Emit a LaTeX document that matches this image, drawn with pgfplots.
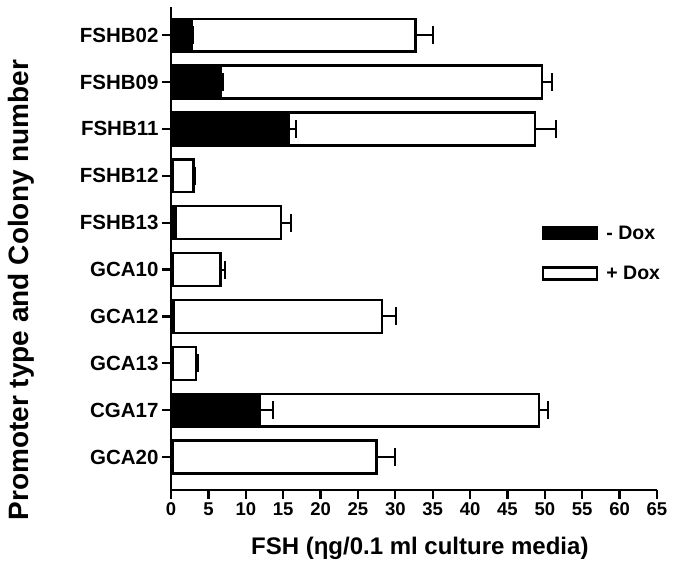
\documentclass[border=0pt]{standalone}
\usepackage{fontspec}
\setmainfont{Liberation Sans}
\usepackage{pgfplots}
\pgfplotsset{compat=1.18}

% y: 0 = bottom row (GCA20) ... 9 = top row (FSHB02)
\pgfplotstableread{
y plus perr minus
9 32.7 2.3 2.8
8 49.6 1.4 6.6
7 48.7 2.8 15.7
6 3.0 0.2 0.3
5 14.7 1.3 0.6
4 6.6 0.6 0.2
3 28.2 1.9 0.4
2 3.3 0.3 0.2
1 49.2 1.2 11.9
0 27.5 2.5 0.3
}\fshdata

% -Dox error bars (only where visible)
\pgfplotstableread{
y minus merr
9 2.8 0.1
8 6.6 0.3
7 15.7 1.0
1 11.9 1.8
}\minuserr

\begin{document}
\begin{tikzpicture}
\begin{axis}[
  scale only axis,
  width=486pt, height=483pt,
  xmin=0, xmax=65, ymin=-0.7, ymax=9.6,
  xtick={0,5,...,65},
  ytick={0,...,9},
  yticklabels={GCA20,CGA17,GCA13,GCA12,GCA10,FSHB13,FSHB12,FSHB11,FSHB09,FSHB02},
  axis x line*=bottom, axis y line*=left,
  axis line style={black, line width=2.4pt, -},
  tick style={black, line width=2.2pt},
  tick align=outside,
  major tick length=9pt,
  /pgf/number format/assume math mode=true,
  xticklabel style={font=\bfseries\fontsize{18.5}{20}\selectfont},
  yticklabel style={font=\bfseries\fontsize{20.5}{22}\selectfont},
  xlabel={\bfseries\fontsize{24}{27}\selectfont FSH (ηg/0.1 ml culture media)},
  ylabel={\bfseries\fontsize{28}{31}\selectfont Promoter type and Colony number},
  xlabel style={at={(rel axis cs:0.512,-0.12)}, anchor=center},
  ylabel style={at={(rel axis cs:-0.308,0.414)}, anchor=center},
  legend style={draw=none, fill=none, at={(rel axis cs:0.763,0.551)}, anchor=north west,
    font=\bfseries\fontsize{19.5}{22}\selectfont, row sep=21pt, column sep=6pt, inner sep=0pt},
  legend cell align=left,
  legend image code/.code={\draw[#1] (0pt,-6pt) rectangle (54pt,6pt);},
  clip=false,
]
  % +Dox (white) bars first, -Dox (black) bars overlaid
  \addplot[forget plot, xbar, bar width=0.7, bar shift=0pt, fill=white, draw=black, line width=2.4pt,
    error bars/.cd, x dir=plus, x explicit,
    error bar style={black, line width=2pt},
    error mark options={rotate=90, black, line width=2pt, mark size=9pt}]
    table[x=plus, y=y, x error=perr] {\fshdata};
  \addplot[forget plot, xbar, bar width=0.7, bar shift=0pt, fill=black, draw=black, line width=2.4pt]
    table[x=minus, y=y] {\fshdata};
  \addplot[forget plot, draw=none, mark=none,
    error bars/.cd, x dir=plus, x explicit,
    error bar style={black, line width=2pt},
    error mark options={rotate=90, black, line width=2pt, mark size=9pt}]
    table[x=minus, y=y, x error=merr] {\minuserr};

  \addlegendimage{fill=black, draw=black, line width=2pt}
  \addlegendentry{- Dox}
  \addlegendimage{fill=white, draw=black, line width=2.4pt}
  \addlegendentry{+ Dox}

  % keep page the size of the reference
  \path (rel axis cs:-0.352,-0.155) rectangle (rel axis cs:1.068,1.0145);
\end{axis}
\end{tikzpicture}
\end{document}
